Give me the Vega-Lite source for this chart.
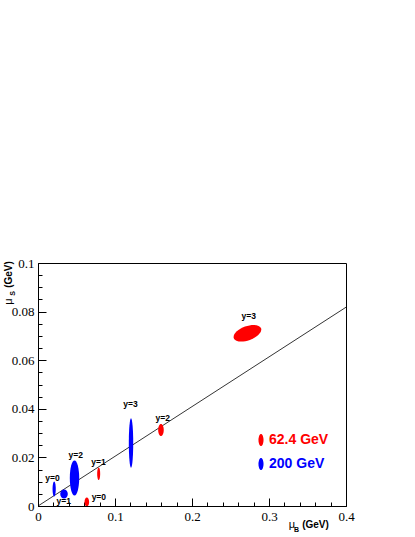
{
  "$schema": "https://vega.github.io/schema/vega-lite/v6.json",
  "width": 308,
  "height": 243,
  "autosize": {"type": "none"},
  "padding": {"left": 38, "top": 263, "right": 69, "bottom": 31},
  "background": "white",
  "config": {
    "view": {"stroke": "#000", "strokeWidth": 1},
    "axis": {"grid": false, "domainColor": "#000", "tickColor": "#000", "labelColor": "#000", "titleColor": "#000"}
  },
  "datasets": {
    "fit": [{"mu_B": 0, "mu_S": 0}, {"mu_B": 0.4, "mu_S": 0.0818}],
    "ellipses": [
      {"id": "b0", "energy": "200 GeV", "mu_B": 0.021, "mu_S": 0.007, "label": "y=0", "label_mu_B": 0.0188, "label_mu_S": 0.0114},
      {"id": "b1", "energy": "200 GeV", "mu_B": 0.0338, "mu_S": 0.0049, "label": "y=1", "label_mu_B": 0.0335, "label_mu_S": 0.0022},
      {"id": "b2", "energy": "200 GeV", "mu_B": 0.0474, "mu_S": 0.0115, "label": "y=2", "label_mu_B": 0.0491, "label_mu_S": 0.0211},
      {"id": "b3", "energy": "200 GeV", "mu_B": 0.1208, "mu_S": 0.0259, "label": "y=3", "label_mu_B": 0.1201, "label_mu_S": 0.0419},
      {"id": "r0", "energy": "62.4 GeV", "mu_B": 0.0634, "mu_S": 0.00165, "label": "y=0", "label_mu_B": 0.079, "label_mu_S": 0.0036},
      {"id": "r1", "energy": "62.4 GeV", "mu_B": 0.0788, "mu_S": 0.0133, "label": "y=1", "label_mu_B": 0.0786, "label_mu_S": 0.0181},
      {"id": "r2", "energy": "62.4 GeV", "mu_B": 0.1597, "mu_S": 0.0313, "label": "y=2", "label_mu_B": 0.1621, "label_mu_S": 0.0363},
      {"id": "r3", "energy": "62.4 GeV", "mu_B": 0.272, "mu_S": 0.0711, "label": "y=3", "label_mu_B": 0.2738, "label_mu_S": 0.0781}
    ]
  },
  "layer": [
    {
      "data": {"name": "fit"},
      "mark": {"type": "line", "color": "#000", "strokeWidth": 0.8},
      "encoding": {
        "x": {"field": "mu_B", "type": "quantitative", "scale": {"domain": [0, 0.4], "nice": false},
          "axis": {"orient": "bottom", "values": [0, 0.1, 0.2, 0.3, 0.4], "format": "~g", "tickSize": -8, "labelPadding": 12,
            "labelFont": "Liberation Serif", "labelFontSize": 13, "labelFlush": false,
            "title": "(GeV)", "titleX": 277, "titleY": 18.5, "titleAlign": "center", "titleBaseline": "middle", "titleAngle": 0,
            "titleFont": "Liberation Sans", "titleFontWeight": "bold", "titleFontSize": 10}},
        "y": {"field": "mu_S", "type": "quantitative", "scale": {"domain": [0, 0.1], "nice": false},
          "axis": {"orient": "left", "values": [0, 0.02, 0.04, 0.06, 0.08, 0.1], "format": "~g", "tickSize": -8, "labelPadding": 12,
            "labelFont": "Liberation Serif", "labelFontSize": 13, "labelFlush": false,
            "title": "(GeV)", "titleX": -30, "titleY": 11, "titleAlign": "center", "titleBaseline": "middle", "titleAngle": 270,
            "titleFont": "Liberation Sans", "titleFontWeight": "bold", "titleFontSize": 10}}
      }
    },
    {
      "data": {"name": "ellipses"},
      "mark": {"type": "point", "filled": true, "opacity": 1, "size": 4, "strokeWidth": 0, "clip": true},
      "encoding": {
        "x": {"field": "mu_B", "type": "quantitative",
          "axis": {"orient": "bottom", "values": [0.02, 0.04, 0.06, 0.08, 0.12, 0.14, 0.16, 0.18, 0.22, 0.24, 0.26, 0.28, 0.32, 0.34, 0.36, 0.38],
            "tickSize": -4, "labels": false, "domain": false,
            "title": "μ", "titleX": 253.5, "titleY": 18, "titleAlign": "center", "titleBaseline": "middle", "titleAngle": 0,
            "titleFont": "Liberation Sans", "titleFontWeight": "normal", "titleFontSize": 11}},
        "y": {"field": "mu_S", "type": "quantitative",
          "axis": {"orient": "left", "values": [0.005, 0.01, 0.015, 0.025, 0.03, 0.035, 0.045, 0.05, 0.055, 0.065, 0.07, 0.075, 0.085, 0.09, 0.095],
            "tickSize": -4, "labels": false, "domain": false,
            "title": "μ", "titleX": -30, "titleY": 38, "titleAlign": "center", "titleBaseline": "middle", "titleAngle": 270,
            "titleFont": "Liberation Sans", "titleFontWeight": "normal", "titleFontSize": 11}},
        "color": {"field": "energy", "type": "nominal",
          "scale": {"domain": ["62.4 GeV", "200 GeV"], "range": ["#ff0000", "#0000ff"]},
          "legend": {"orient": "none", "legendX": 216, "legendY": 170, "title": null,
            "symbolType": "M0.42,0C0.42,0.552 0.232,1 0,1C-0.232,1 -0.42,0.552 -0.42,0C-0.42,-0.552 -0.232,-1 0,-1C0.232,-1 0.42,-0.552 0.42,0Z",
            "symbolSize": 144, "symbolStrokeWidth": 0, "symbolOpacity": 1,
            "labelFont": "Liberation Sans", "labelFontSize": 14, "labelFontWeight": "bold", "labelOffset": 1, "rowPadding": 10,
            "encode": {"labels": {"update": {"fill": {"signal": "datum.label === '200 GeV' ? '#0000ff' : '#ff0000'"}}}}}},
        "shape": {"field": "id", "type": "nominal", "legend": null,
          "scale": {"domain": ["b0", "b1", "b2", "b3", "r0", "r1", "r2", "r3"],
            "range": [
              "M1.6,0C1.6,4.14 0.88,7.5 0,7.5C-0.88,7.5 -1.6,4.14 -1.6,0C-1.6,-4.14 -0.88,-7.5 0,-7.5C0.88,-7.5 1.6,-4.14 1.6,0Z",
              "M3.8,0C3.8,2.49 2.1,4.5 0,4.5C-2.1,4.5 -3.8,2.49 -3.8,0C-3.8,-2.49 -2.1,-4.5 0,-4.5C2.1,-4.5 3.8,-2.49 3.8,0Z",
              "M4.7,0C4.7,9.67 2.6,17.5 0,17.5C-2.6,17.5 -4.7,9.67 -4.7,0C-4.7,-9.67 -2.6,-17.5 0,-17.5C2.6,-17.5 4.7,-9.67 4.7,0Z",
              "M2.2,0C2.2,13.64 1.22,24.7 0,24.7C-1.22,24.7 -2.2,13.64 -2.2,0C-2.2,-13.64 -1.22,-24.7 0,-24.7C1.22,-24.7 2.2,-13.64 2.2,0Z",
              "M2.3,0C2.3,2.49 1.27,4.5 0,4.5C-1.27,4.5 -2.3,2.49 -2.3,0C-2.3,-2.49 -1.27,-4.5 0,-4.5C1.27,-4.5 2.3,-2.49 2.3,0Z",
              "M1.5,0C1.5,3.48 0.83,6.3 0,6.3C-0.83,6.3 -1.5,3.48 -1.5,0C-1.5,-3.48 -0.83,-6.3 0,-6.3C0.83,-6.3 1.5,-3.48 1.5,0Z",
              "M2.8,0C2.8,3.31 1.55,6 0,6C-1.55,6 -2.8,3.31 -2.8,0C-2.8,-3.31 -1.55,-6 0,-6C1.55,-6 2.8,-3.31 2.8,0Z",
              "M13.63,-4.96C14.97,-1.27 9.95,3.93 2.43,6.67C-5.1,9.41 -12.29,8.64 -13.63,4.96C-14.97,1.27 -9.95,-3.93 -2.43,-6.67C5.1,-9.41 12.29,-8.64 13.63,-4.96Z"
            ]}}
      }
    },
    {
      "data": {"name": "ellipses"},
      "mark": {"type": "text", "font": "Liberation Sans", "fontWeight": "bold", "fontSize": 8.5, "color": "#000", "align": "center", "baseline": "middle"},
      "encoding": {
        "x": {"field": "label_mu_B", "type": "quantitative",
          "axis": {"orient": "bottom", "ticks": false, "labels": false, "domain": false,
            "title": "B", "titleX": 258, "titleY": 23, "titleAlign": "center", "titleBaseline": "middle", "titleAngle": 0,
            "titleFont": "Liberation Sans", "titleFontWeight": "bold", "titleFontSize": 7}},
        "y": {"field": "label_mu_S", "type": "quantitative",
          "axis": {"orient": "left", "ticks": false, "labels": false, "domain": false,
            "title": "S", "titleX": -26, "titleY": 30, "titleAlign": "center", "titleBaseline": "middle", "titleAngle": 270,
            "titleFont": "Liberation Sans", "titleFontWeight": "bold", "titleFontSize": 7}},
        "text": {"field": "label", "type": "nominal"}
      }
    }
  ],
  "resolve": {"axis": {"x": "independent", "y": "independent"}}
}
